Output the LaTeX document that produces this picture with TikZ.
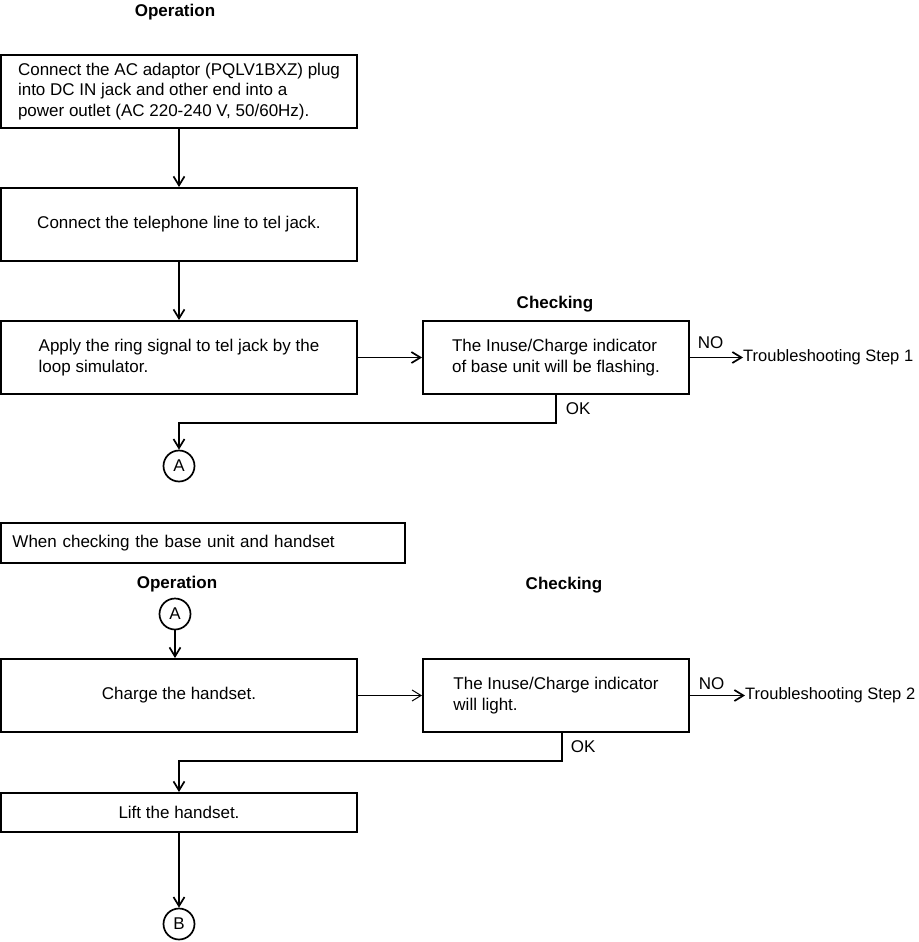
\documentclass[tikz,border=0pt]{standalone}
\usepackage{fontspec}
\setmainfont{Liberation Sans}
\usepackage{xcolor}
\usepackage{tikz}
\usetikzlibrary{positioning, calc, arrows.meta}
\definecolor{LineColor}{rgb}{0,0,0}
\tikzset{
    stepbox/.style={
        shape=rectangle,
        draw=LineColor,
        line width=2pt,
        minimum width=#1,
        minimum height=73pt,
        inner sep=0pt,
        align=left
    },
    stepbox/.default=356pt,
    joint/.style={circle, draw=LineColor, line width=1.7pt, minimum size=31pt, inner sep=0pt},
    flow/.style={-{Straight Barb[length=9pt, width=11pt]}, line width=1.7pt, draw=LineColor},
    head/.style={font=\fontsize{17}{20.5}\selectfont\bfseries},
    tag/.style={inner sep=0pt},
    endtag/.style={inner sep=0pt, anchor=west, font=\fontsize{16.5}{20}\selectfont}
}

\begin{document}
\begin{tikzpicture}[x=1pt, y=-1pt, font=\fontsize{17}{20.5}\selectfont]
\useasboundingbox (0,0) rectangle (918,942);

% Operation column (power up)
\node[head] (t_op1) at (175,12) {Operation};

\node[stepbox] (op_power) at (179,91.5) {Connect the AC adaptor (PQLV1BXZ) plug\\into DC IN jack and other end into a\\power outlet (AC 220-240 V, 50/60Hz).};
\node[stepbox] (op_line) at (179,224.5) {Connect the telephone line to tel jack.};
\node[stepbox] (op_ring) at (179,357.5) {Apply the ring signal to tel jack by the\\loop simulator.};

% Checking column (power up)
\node[head] (t_ck1) at (555,304) {Checking};

\node[stepbox=266pt] (ck_flash) at (556,357.5) {The Inuse/Charge indicator\\of base unit will be flashing.};
\node[endtag] (ts1) at (743,357.5) {Troubleshooting Step 1};
\node[joint] (j_a1) at (179,466) {A};
\coordinate (ok1) at (556,423);

% Arrows (power up)
\draw[flow] (op_power) -- (op_line);
\draw[flow] (op_line) -- (op_ring);
\draw[flow] (op_ring) -- (ck_flash);
\draw[flow] (ck_flash.east) -- (ts1.west) node[tag, pos=0, anchor=south west, xshift=7pt, yshift=8pt] {NO};
\draw[flow] (ck_flash.south) -- node[tag, right=9pt] {OK} (ok1) -| (j_a1);

% Base unit and handset
\node[stepbox=404pt, minimum height=40pt, text width=380pt] (note) at (202.5,543) {When checking the base unit and handset};

\node[head] (t_op2) at (177,584) {Operation};
\node[head] (t_ck2) at (564,585) {Checking};

\node[joint] (j_a2) at (175,614) {A};
\node[stepbox] (op_charge) at (179,695.5) {Charge the handset.};
\node[stepbox=266pt] (ck_light) at (556,695.5) {The Inuse/Charge indicator\\will light.};
\node[endtag] (ts2) at (745,695.5) {Troubleshooting Step 2};
\node[stepbox, minimum height=39pt] (op_lift) at (179,812.5) {Lift the handset.};
\node[joint] (j_b) at (179,924) {B};
\coordinate (ok2) at (562,761);

% Arrows (base unit and handset)
\draw[flow] (j_a2) -- (j_a2 |- op_charge.north);
\draw[flow, line width=1pt] (op_charge) -- (ck_light);
\draw[flow] (ck_light.east) -- (ts2.west) node[tag, pos=0, anchor=south west, xshift=8pt, yshift=5pt] {NO};
\draw[flow] (ck_light.south -| ok2) -- node[tag, right=8pt] {OK} (ok2) -| (op_lift);
\draw[flow] (op_lift) -- (j_b);

\end{tikzpicture}
\end{document}
